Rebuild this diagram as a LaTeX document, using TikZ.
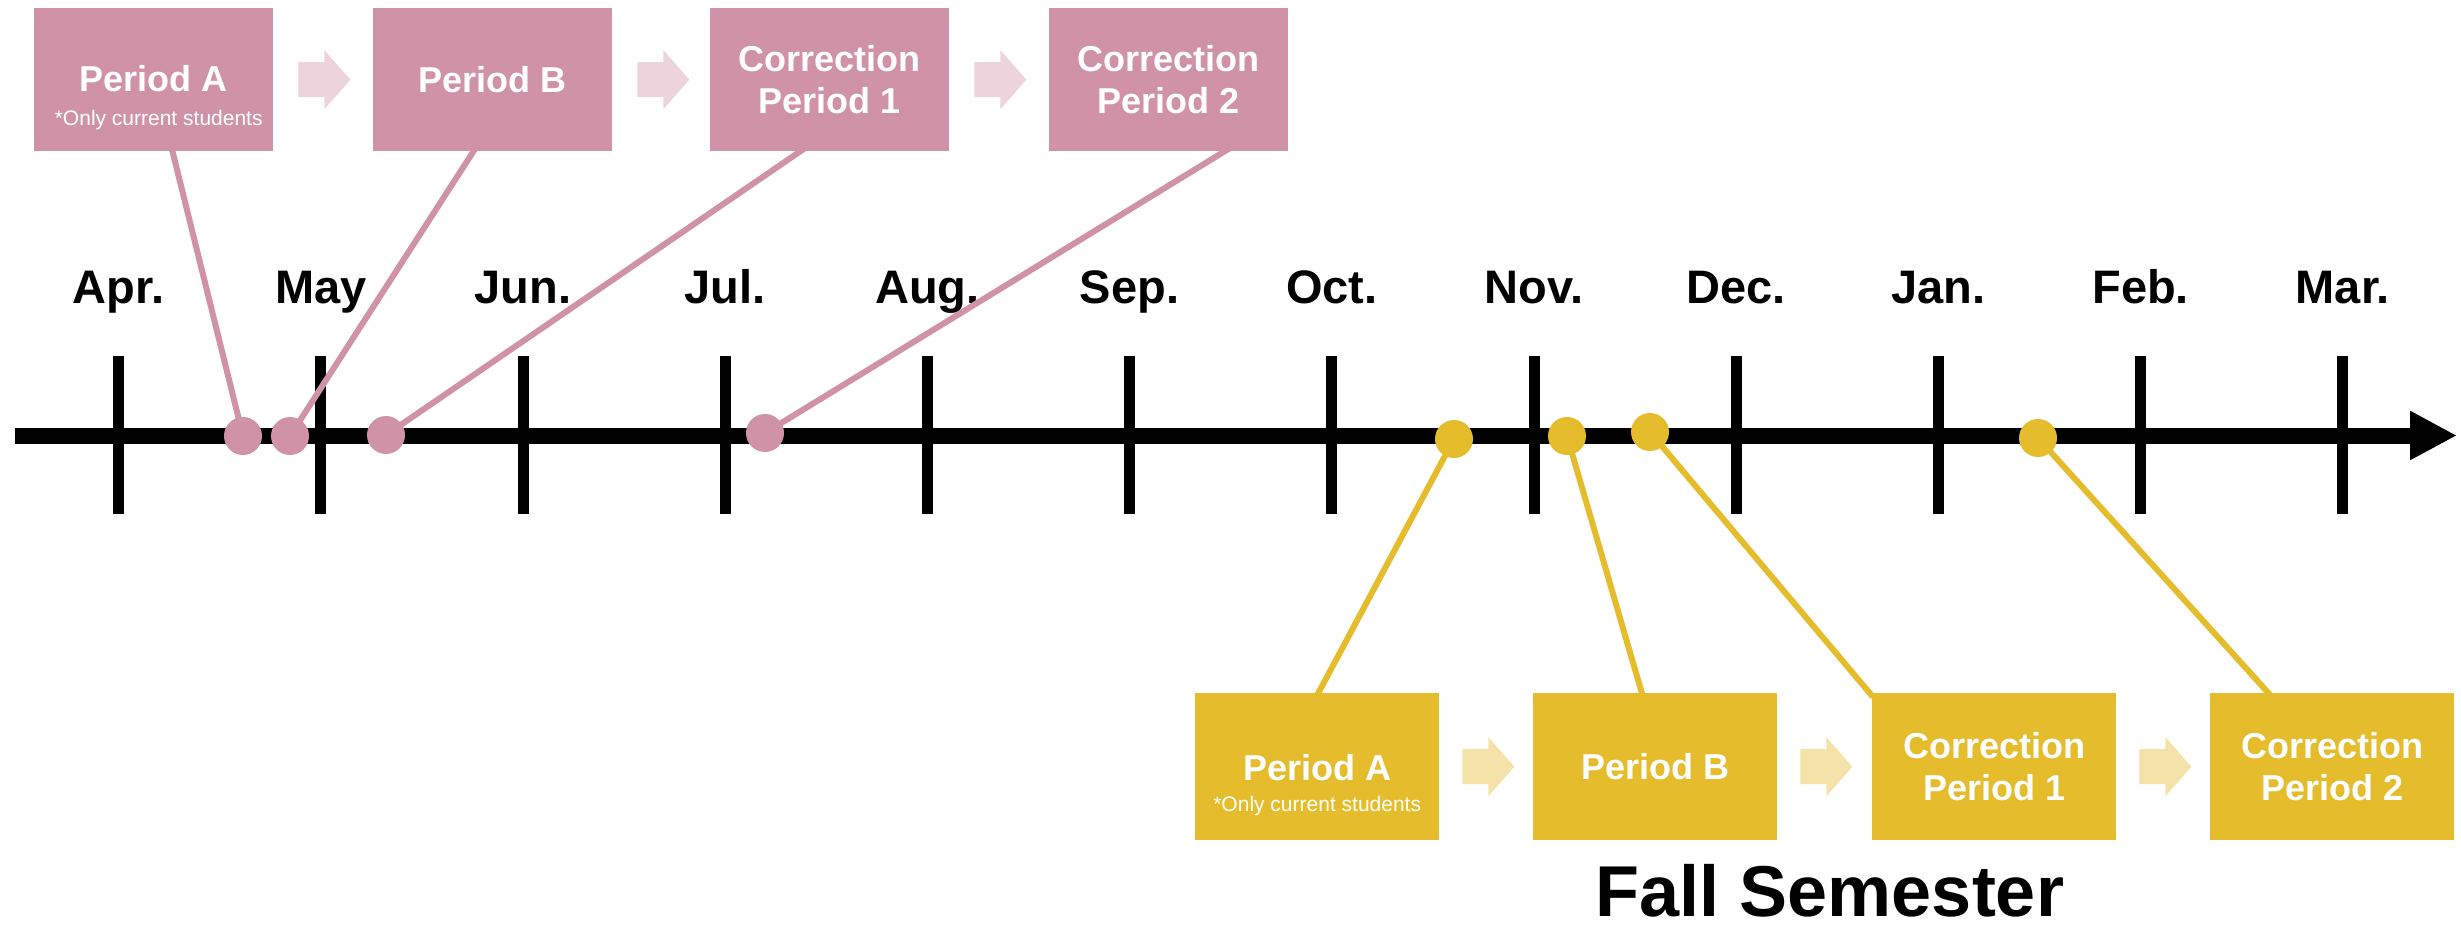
\documentclass[tikz,border=0pt]{standalone}
\usepackage{fontspec}
\setmainfont{Liberation Sans}
\usetikzlibrary{arrows.meta,calc}
\definecolor{pinkc}{RGB}{208,146,167}
\definecolor{pinkl}{RGB}{237,211,220}
\definecolor{yelc}{RGB}{229,188,43}
\definecolor{yell}{RGB}{244,226,168}
\newcommand\bxfont{\bfseries\fontsize{36}{42}\selectfont}
\newcommand\smfont{\fontsize{21}{24}\selectfont}
\newcommand\mofont{\bfseries\fontsize{47}{52}\selectfont}
\newcommand\ttfont{\bfseries\fontsize{72}{80}\selectfont}
\pgfdeclarelayer{axislayer}
\pgfdeclarelayer{linklayer}
\pgfsetlayers{axislayer,linklayer,main}
\tikzset{
  pbox/.style={fill=pinkc, minimum width=239pt, minimum height=143pt, anchor=north west, inner sep=0pt, text=white, font=\bxfont, align=center},
  ybox/.style={fill=yelc, minimum width=244pt, minimum height=147pt, anchor=north west, inner sep=0pt, text=white, font=\bxfont, align=center},
  btxt/.style={text=white, font=\bxfont, inner sep=0pt, anchor=base},
  stxt/.style={text=white, font=\smfont, inner sep=0pt, anchor=base},
  pdot/.style={circle, fill=pinkc, minimum size=38pt, inner sep=0pt},
  ydot/.style={circle, fill=yelc, minimum size=38pt, inner sep=0pt},
  plink/.style={draw=pinkc, line width=6pt},
  ylink/.style={draw=yelc, line width=6pt},
  axisline/.style={draw=black, line width=16pt},
  tickline/.style={draw=black, line width=11pt},
  month/.style={font=\mofont, inner sep=0pt, anchor=base},
  pics/barrow/.style={code={\fill[#1] (0,-17.5) -- (26,-17.5) -- (26,-29.5) -- (52,0) -- (26,29.5) -- (26,17.5) -- (0,17.5) -- cycle;}}
}
\begin{document}
\begin{tikzpicture}[x=1pt,y=-1pt]
\useasboundingbox (0,0) rectangle (2461,932);

% pink boxes
\node[pbox] (pA) at (34,8) {};
\node[pbox] (pB) at (373,8) {Period B};
\node[pbox] (pC1) at (710,8) {Correction\\Period 1};
\node[pbox] (pC2) at (1049,8) {Correction\\Period 2};
\node[btxt] (pAt) at ($(pA.center)+(0,11.5)$) {Period A};
\node[stxt] (pAs) at ($(pA.center)+(5,46)$) {*Only current students};

\pic at ($(pA.east)+(25,0)$) {barrow=pinkl};
\pic at ($(pB.east)+(25,0)$) {barrow=pinkl};
\pic at ($(pC1.east)+(25,0)$) {barrow=pinkl};

% yellow boxes
\node[ybox] (yA) at (1195,693) {};
\node[ybox] (yB) at (1533,693) {Period B};
\node[ybox] (yC1) at (1872,693) {Correction\\Period 1};
\node[ybox] (yC2) at (2210,693) {Correction\\Period 2};
\node[btxt] (yAt) at ($(yA.center)+(0,14)$) {Period A};
\node[stxt] (yAs) at ($(yA.center)+(0,44.5)$) {*Only current students};

\pic at ($(yA.east)+(23,0)$) {barrow=yell};
\pic at ($(yB.east)+(23,0)$) {barrow=yell};
\pic at ($(yC1.east)+(23,0)$) {barrow=yell};

% timeline
\begin{pgfonlayer}{axislayer}
\coordinate (tl0) at (15,435.5);
\coordinate (tl1) at (2457,435.5);
\draw[axisline, -{Triangle[length=47pt,width=46pt]}] (tl0) -- (tl1);
\foreach \m [count=\n from 0] in {Apr.,May,Jun.,Jul.,Aug.,Sep.,Oct.,Nov.,Dec.,Jan.,Feb.,Mar.}{
  \draw[tickline] (118.6+202.2*\n,356) -- (118.6+202.2*\n,514);
  \node[month] (m\n) at (118.6+202.2*\n,303) {\m};
}
\end{pgfonlayer}

% dots
\node[pdot] (pd1) at (243,436) {};
\node[pdot] (pd2) at (290,436) {};
\node[pdot] (pd3) at (386,435) {};
\node[pdot] (pd4) at (765,433) {};
\node[ydot] (yd1) at (1454,439) {};
\node[ydot] (yd2) at (1567,436) {};
\node[ydot] (yd3) at (1650,432) {};
\node[ydot] (yd4) at (2038,438) {};

% connectors
\begin{pgfonlayer}{linklayer}
\draw[plink] ($(pA.south west)+(137.5,-4)$) -- (pd1.center);
\draw[plink] ($(pB.south west)+(103,-4)$) -- (pd2.center);
\draw[plink] ($(pC1.south west)+(96,-4)$) -- (pd3.center);
\draw[plink] ($(pC2.south west)+(182,-4)$) -- (pd4.center);
\draw[ylink] ($(yA.north)+(-1,4)$) -- (yd1.center);
\draw[ylink] ($(yB.north west)+(110,4)$) -- (yd2.center);
\draw[ylink] ($(yC1.north west)+(1,4)$) -- (yd3.center);
\draw[ylink] ($(yC2.north west)+(62,4)$) -- (yd4.center);
\end{pgfonlayer}

\node[font=\ttfont, inner sep=0pt, anchor=base] (fall) at (1830,916) {Fall Semester};
\end{tikzpicture}
\end{document}
